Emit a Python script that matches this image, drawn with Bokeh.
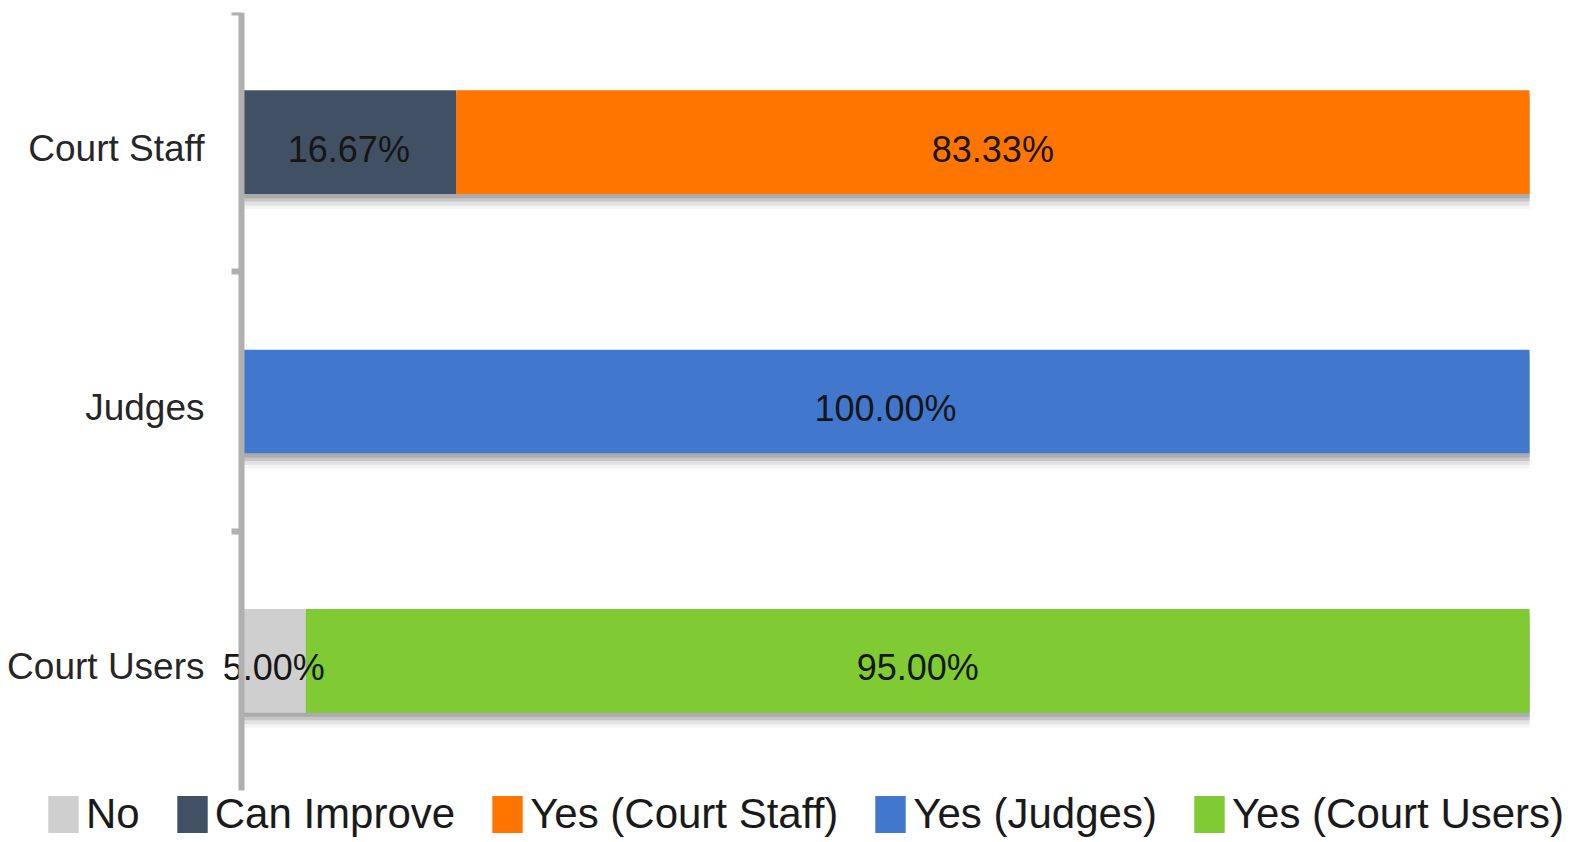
from bokeh.plotting import figure
from bokeh.models import ColumnDataSource, FixedTicker, Legend, LegendItem, Range1d
from bokeh.embed import file_html
from bokeh.resources import INLINE
from bokeh.core.properties import value

# ---------------- data ----------------
categories = ["Court Staff", "Judges", "Court Users"]
series = ["No", "Can Improve", "Yes (Court Staff)", "Yes (Judges)", "Yes (Court Users)"]
no_vals = [0.0, 0.0, 5.00]
can_improve_vals = [16.67, 0.0, 0.0]
yes_staff_vals = [83.33, 0.0, 0.0]
yes_judges_vals = [0.0, 100.00, 0.0]
yes_users_vals = [0.0, 0.0, 95.00]
colors = ["#cfcfcf", "#415163", "#ff7500", "#4178ce", "#80ca33"]

values = [no_vals, can_improve_vals, yes_staff_vals, yes_judges_vals, yes_users_vals]
n = len(categories)
ypos = [n - i - 0.5 for i in range(n)]
keys = ["s%d" % i for i in range(len(series))]

data = {"y": ypos}
for k, v in zip(keys, values):
    data[k] = v
src = ColumnDataSource(data)

# ---------------- layout constants (pixels) ----------------
W, H = 1577, 838
MB_LEFT, MB_RIGHT, MB_TOP, MB_BOTTOM = 0, 0, 12, 0
AX_PX, END_PX = 241, 1529          # where 0 % and 100 % fall
BOTTOM_PX = 790                     # where the category block ends
frame_l, frame_r = MB_LEFT, W - MB_RIGHT
frame_t, frame_b = MB_TOP, H - MB_BOTTOM
xs = (END_PX - AX_PX) / 100.0
ys = (BOTTOM_PX - frame_t) / float(n)
x_start = -(AX_PX - frame_l) / xs
x_end = 100 + (frame_r - END_PX) / xs
y_start = -(frame_b - BOTTOM_PX) / ys

FONT = "Liberation Sans"
BAR_H = 0.4

p = figure(width=W, height=H, x_range=Range1d(x_start, x_end), y_range=Range1d(y_start, n),
           output_backend="svg", toolbar_location=None,
           x_axis_location=None, y_axis_location="right",
           min_border_left=MB_LEFT, min_border_right=MB_RIGHT,
           min_border_top=MB_TOP, min_border_bottom=MB_BOTTOM)
p.outline_line_color = None
p.xgrid.visible = False
p.ygrid.visible = False
p.background_fill_color = "white"
p.border_fill_color = "white"

# shadows under the bars
totals = [sum(v[i] for v in values) for i in range(n)]
shadow_layers = [(0.058, "#f4f4f4"), (0.045, "#e3e3e3"), (0.029, "#c6c6c6"), (0.016, "#ababab")]
for dy, col in shadow_layers:
    p.hbar(y=[y - dy for y in ypos], left=0, right=totals, height=BAR_H,
           fill_color=col, line_color=None)

rends = p.hbar_stack(keys, y="y", height=BAR_H, color=colors, line_color=None, source=src)

# data labels
lx, ly, lt = [], [], []
for i in range(n):
    cum = 0.0
    for v in values:
        val = v[i]
        if val > 0:
            lx.append(cum + val / 2)
            ly.append(ypos[i])
            lt.append("%.2f%%" % val)
        cum += val
p.text(x=lx, y=ly, text=lt, text_align="center", text_baseline="middle",
       text_font=value(FONT), text_font_size="36px", text_color="#161616", y_offset=7)

# category axis: line + ticks at category boundaries, labels to the left of the line
ax = p.yaxis[0]
ax.fixed_location = 0
ax.bounds = (0, n)
bounds_ticks = [float(k) for k in range(1, n + 1)]
ax.ticker = FixedTicker(ticks=bounds_ticks)
ax.major_label_overrides = {t: "" for t in bounds_ticks}
ax.major_label_standoff = 0
ax.axis_line_color = "#b0b0b0"
ax.axis_line_width = 6
ax.major_tick_out = 0
ax.major_tick_in = 10
ax.major_tick_line_color = "#b0b0b0"
ax.major_tick_line_width = 6
ax.minor_tick_line_color = None

p.text(x=[0] * n, y=ypos, text=categories, text_align="right", text_baseline="middle",
       x_offset=-37, y_offset=6, text_font=value(FONT), text_font_size="37px",
       text_color="#262626")

legend = Legend(items=[LegendItem(label=s, renderers=[r]) for s, r in zip(series, rends)],
                orientation="horizontal", location=(44 - frame_l, 0))
legend.label_text_font = FONT
legend.label_text_font_size = "42px"
legend.label_text_color = "#1a1a1a"
legend.glyph_width = 38
legend.glyph_height = 46
legend.spacing = 33
legend.label_standoff = 4
legend.padding = 0
legend.margin = 0
legend.border_line_color = None
legend.background_fill_alpha = 0
p.add_layout(legend, "center")

open("out.html", "w").write(file_html(p, INLINE))
